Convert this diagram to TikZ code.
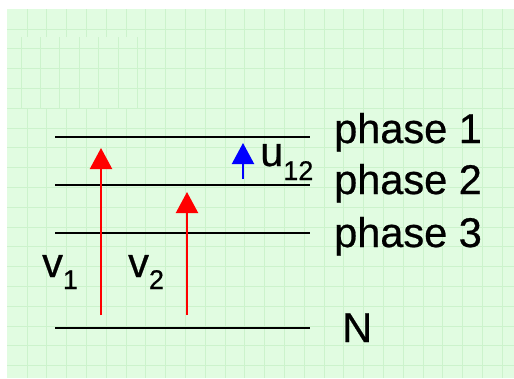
\documentclass[tikz,border=0pt]{standalone}
\usepackage{fontspec}
\setmainfont{Liberation Sans}[BoldFont={Liberation Sans},BoldFeatures={FakeBold=0.6}]
\usetikzlibrary{arrows.meta}
\definecolor{bgc}{RGB}{225,252,225}
\definecolor{gridc}{RGB}{204,243,204}
\definecolor{redc}{RGB}{255,0,0}
\definecolor{bluec}{RGB}{0,0,255}
\tikzset{
  level/.style={line width=2.6pt, black},
  redarrow/.style={line width=2.2pt, redc, -{Triangle[width=22pt,length=21pt]}},
  bluearrow/.style={line width=2.2pt, bluec, -{Triangle[width=22pt,length=21pt]}},
  lbl/.style={inner sep=0pt, anchor=base west, font=\fontsize{41.5}{42}\selectfont\bfseries},
  gridline/.style={gridc, line width=1pt},
}
\newcommand{\subtxt}[2]{\raisebox{-#1pt}{\fontsize{27}{27}\selectfont #2}}
\begin{document}
\begin{tikzpicture}[x=1pt,y=-1pt]
\useasboundingbox (0,0) rectangle (514,378);
\fill[white] (0,0) rectangle (514,378);
\fill[bgc] (7,9) rectangle (514,378);
\begin{scope}
\clip (7,9) rectangle (514,378);
\foreach \i in {0,...,25} {
  \draw[gridline] ({27+19.8*\i},9) -- ({27+19.8*\i},378);
}
\foreach \j in {0,...,18} {
  \draw[gridline] (7,{29+19.8*\j}) -- (514,{29+19.8*\j});
}
\end{scope}
% offset grid patch
\fill[bgc] (18,37) rectangle (143,108);
\foreach \i in {0,...,6} {
  \draw[gridline] ({21+19.4*\i},37) -- ({21+19.4*\i},108);
}
\foreach \j in {1,2,3} {
  \draw[gridline] (18,{29+19.8*\j}) -- (143,{29+19.8*\j});
}
% levels
\coordinate (l1a) at (55,137); \coordinate (l1b) at (310,137);
\coordinate (l2a) at (55,185); \coordinate (l2b) at (310,185);
\coordinate (l3a) at (55,233); \coordinate (l3b) at (310,233);
\coordinate (lNa) at (55,328); \coordinate (lNb) at (310,328);
\draw[level] (l1a) -- (l1b);
\draw[level] (l2a) -- (l2b);
\draw[level] (l3a) -- (l3b);
\draw[level] (lNa) -- (lNb);
% arrows
\coordinate (a1s) at (101,315); \coordinate (a1e) at (101,148);
\coordinate (a2s) at (187,315); \coordinate (a2e) at (187,192);
\coordinate (bs) at (243,179); \coordinate (be) at (243,143);
\draw[redarrow] (a1s) -- (a1e);
\draw[redarrow] (a2s) -- (a2e);
\draw[bluearrow] (bs) -- (be);
% labels
\node[lbl] (p1) at (334,143) {phase 1};
\node[lbl] (p2) at (334,194) {phase 2};
\node[lbl] (p3) at (334,247) {phase 3};
\node[lbl] (n) at (342,342) {N};
\node[lbl] (v1) at (42,277) {v\subtxt{12}{1}};
\node[lbl] (v2) at (128,277) {v\subtxt{12}{2}};
\node[lbl] (u12) at (260,166) {u\subtxt{14}{12}};
\end{tikzpicture}
\end{document}
